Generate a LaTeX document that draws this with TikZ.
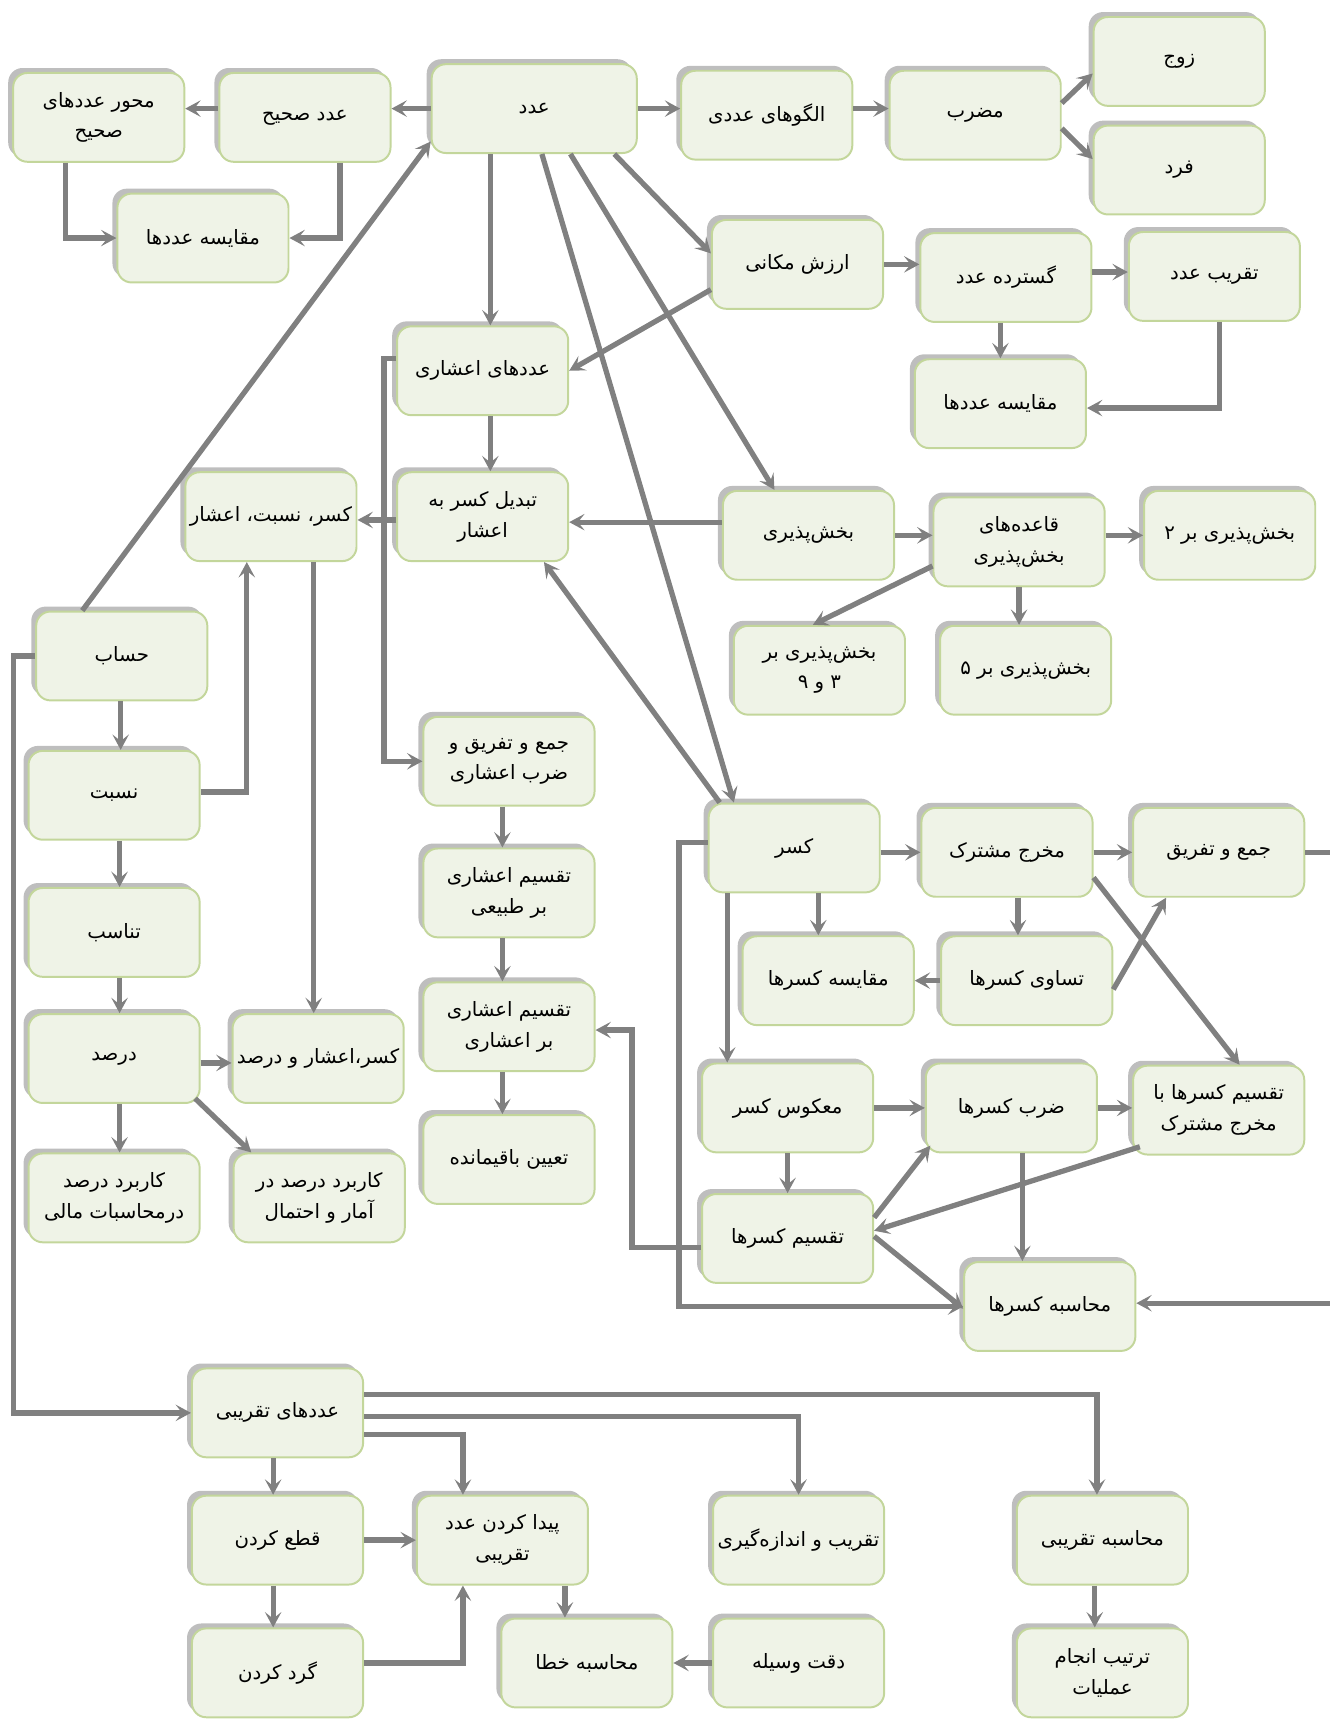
\documentclass[tikz,border=0pt]{standalone}
\usepackage{fontspec}
\newfontfamily\arabicfont[Script=Arabic]{DejaVu Sans}
\TeXXeTstate=1
\usetikzlibrary{arrows.meta,shadows}
\definecolor{boxfill}{RGB}{239,243,231}
\definecolor{boxline}{RGB}{195,214,155}
\definecolor{shadowgray}{RGB}{190,190,190}
\definecolor{linkgray}{RGB}{128,128,128}
\newcommand{\fatext}[1]{\beginR #1\endR}

\begin{document}
\begin{tikzpicture}[x=1pt,y=-1pt,
    topic/.style={draw=boxline,fill=boxfill,line width=1.8pt,rounded corners=13pt,
      minimum width=156pt,minimum height=81pt,align=center,inner sep=2pt,
      font=\arabicfont\fontsize{18}{28}\selectfont,
      drop shadow={shadow xshift=-4.5pt,shadow yshift=4.5pt,fill=shadowgray,opacity=1}},
    link/.style={draw=linkgray,line width=4.8pt,-{Stealth[length=14pt,width=15pt,inset=6pt]}},
    plain/.style={draw=linkgray,line width=4.8pt}]
  \useasboundingbox (0,0) rectangle (1212,1568);

  \node[topic,minimum width=187pt] (num) at (487,99) {\fatext{عدد}};
  \node[topic] (intg) at (278,107) {\fatext{عدد صحیح}};
  \node[topic] (axis) at (90,107) {\fatext{محور عددهای}\\\fatext{صحیح}};
  \node[topic] (cmpL) at (185,217) {\fatext{مقایسه عددها}};
  \node[topic] (pattern) at (699,105) {\fatext{الگوهای عددی}};
  \node[topic] (mult) at (889,105) {\fatext{مضرب}};
  \node[topic] (even) at (1075,56) {\fatext{زوج}};
  \node[topic] (odd) at (1075,155) {\fatext{فرد}};
  \node[topic] (place) at (727,241) {\fatext{ارزش مکانی}};
  \node[topic] (expand) at (917,253) {\fatext{گسترده عدد}};
  \node[topic] (approxnum) at (1107,252) {\fatext{تقریب عدد}};
  \node[topic] (cmpR) at (912,368) {\fatext{مقایسه عددها}};
  \node[topic] (dec) at (440,338) {\fatext{عددهای اعشاری}};
  \node[topic] (conv) at (440,471) {\fatext{تبدیل کسر به}\\\fatext{اعشار}};
  \node[topic] (frd) at (247,471) {\fatext{کسر، نسبت، اعشار}};
  \node[topic] (divis) at (737,488) {\fatext{بخش‌پذیری}};
  \node[topic] (rules) at (929,494) {\fatext{قاعده‌های}\\\fatext{بخش‌پذیری}};
  \node[topic] (by2) at (1121,488) {\fatext{بخش‌پذیری بر ۲}};
  \node[topic] (by39) at (747,611) {\fatext{بخش‌پذیری بر}\\\fatext{۳ و ۹}};
  \node[topic] (by5) at (935,611) {\fatext{بخش‌پذیری بر ۵}};
  \node[topic] (arith) at (111,598) {\fatext{حساب}};
  \node[topic] (ratio) at (104,725) {\fatext{نسبت}};
  \node[topic] (prop) at (104,850) {\fatext{تناسب}};
  \node[topic] (pct) at (104,965) {\fatext{درصد}};
  \node[topic] (fdp) at (290,965) {\fatext{کسر،اعشار و درصد}};
  \node[topic] (pctfin) at (104,1092) {\fatext{کاربرد درصد}\\\fatext{درمحاسبات مالی}};
  \node[topic] (pctstat) at (291,1092) {\fatext{کاربرد درصد در}\\\fatext{آمار و احتمال}};
  \node[topic] (decadd) at (464,694) {\fatext{جمع و تفریق و}\\\fatext{ضرب اعشاری}};
  \node[topic] (decdivn) at (464,814) {\fatext{تقسیم اعشاری}\\\fatext{بر طبیعی}};
  \node[topic] (decdivd) at (464,936) {\fatext{تقسیم اعشاری}\\\fatext{بر اعشاری}};
  \node[topic] (remd) at (464,1057) {\fatext{تعیین باقیمانده}};
  \node[topic] (frac) at (724,773) {\fatext{کسر}};
  \node[topic] (lcd) at (918,777) {\fatext{مخرج مشترک}};
  \node[topic] (addsub) at (1111,777) {\fatext{جمع و تفریق}};
  \node[topic] (fcmp) at (755,894) {\fatext{مقایسه کسرها}};
  \node[topic] (feq) at (936,894) {\fatext{تساوی کسرها}};
  \node[topic] (inv) at (718,1010) {\fatext{معکوس کسر}};
  \node[topic] (fmul) at (922,1010) {\fatext{ضرب کسرها}};
  \node[topic] (fdivc) at (1111,1012) {\fatext{تقسیم کسرها با}\\\fatext{مخرج مشترک}};
  \node[topic] (fdiv) at (718,1129) {\fatext{تقسیم کسرها}};
  \node[topic] (fcalc) at (957,1191) {\fatext{محاسبه کسرها}};
  \node[topic] (approx) at (253,1288) {\fatext{عددهای تقریبی}};
  \node[topic] (trunc) at (253,1404) {\fatext{قطع کردن}};
  \node[topic] (findap) at (458,1404) {\fatext{پیدا کردن عدد}\\\fatext{تقریبی}};
  \node[topic] (measure) at (728,1404) {\fatext{تقریب و اندازه‌گیری}};
  \node[topic] (apcalc) at (1005,1404) {\fatext{محاسبه تقریبی}};
  \node[topic] (rnd) at (253,1525) {\fatext{گرد کردن}};
  \node[topic] (err) at (535,1516) {\fatext{محاسبه خطا}};
  \node[topic] (prec) at (728,1516) {\fatext{دقت وسیله}};
  \node[topic] (order) at (1005,1525) {\fatext{ترتیب انجام}\\\fatext{عملیات}};
  \coordinate (edgeA) at (1220,777);
  \coordinate (edgeB) at (1220,1188);

  \draw[link] (num.west) -- (num.west -| intg.east);
  \draw[link] (num.west -| intg.west) -- (num.west -| axis.east);
  \draw[link] ([xshift=-30pt]axis.south) |- (cmpL.west);
  \draw[link] ([xshift=32pt]intg.south) |- (cmpL.east);
  \draw[link] (num.east) -- (num.east -| pattern.west);
  \draw[link] (num.east -| pattern.east) -- (num.east -| mult.west);
  \draw[link] ([yshift=11pt]mult.east) -- ([yshift=-11pt]even.west);
  \draw[link] ([yshift=-12pt]mult.east) -- ([yshift=10pt]odd.west);
  \draw[link] ([xshift=73pt]num.south) -- ([yshift=10pt]place.west);
  \draw[link] ([xshift=-40pt]num.south) -- ([xshift=7pt]dec.north);
  \draw[link] ([xshift=33pt]num.south) -- ([xshift=-31pt]divis.north);
  \draw[link] ([xshift=7pt]num.south) -- ([xshift=-55pt]frac.north);
  \draw[link] ([yshift=-23pt]place.west) -- (dec.east);
  \draw[link] (place.east) -- (place.east -| expand.west);
  \draw[link] ([yshift=5pt]expand.east) -- ([yshift=4pt]approxnum.west);
  \draw[link] (expand.south -| cmpR.north) -- (cmpR.north);
  \draw[link] ([xshift=5pt]approxnum.south) |- ([yshift=-4pt]cmpR.east);
  \draw[link] ([xshift=7pt]dec.south) -- ([xshift=7pt]conv.north);
  \draw[link] ([yshift=11pt]dec.west) -- ++(-11,0) |- (decadd.west);
  \draw[link] ([yshift=-3pt]conv.west) -- ([yshift=-3pt]frd.east);
  \draw[link] ([yshift=12pt]divis.west) -- ([yshift=-5pt]conv.east);
  \draw[link] ([xshift=11pt]frac.north west) -- ([xshift=-23pt]conv.south east);
  \draw[link] (divis.east) -- (divis.east -| rules.west);
  \draw[link] (by2.west -| rules.east) -- (by2.west);
  \draw[link] ([yshift=-22pt]rules.west) -- ([xshift=-6pt]by39.north);
  \draw[link] (rules.south) -- (rules.south |- by5.north);
  \draw[link] ([xshift=-36pt]arith.north) -- ([yshift=-30pt]num.west);
  \draw[link] ([xshift=-1pt]arith.south) -- ([xshift=6pt]ratio.north);
  \draw[link] (arith.west) -- ++(-20,0) |- (approx.west);
  \draw[link] ([yshift=3pt]ratio.east) -| ([xshift=-22pt]frd.south);
  \draw[link] ([xshift=39pt]frd.south) -- ([xshift=-4pt]fdp.north);
  \draw[link] ([xshift=5pt]ratio.south) -- ([xshift=5pt]prop.north);
  \draw[link] ([xshift=5pt]prop.south) -- ([xshift=5pt]pct.north);
  \draw[link] ([yshift=-4pt]pct.east) -- ([yshift=-4pt]fdp.west);
  \draw[link] ([xshift=5pt]pct.south) -- ([xshift=5pt]pctfin.north);
  \draw[link] ([xshift=-5pt,yshift=5pt]pct.south east) -- ([xshift=17pt]pctstat.north west);
  \draw[link] ([xshift=-6pt]decadd.south) -- ([xshift=-6pt]decdivn.north);
  \draw[link] ([xshift=-6pt]decdivn.south) -- ([xshift=-6pt]decdivd.north);
  \draw[link] ([xshift=-6pt]decdivd.south) -- ([xshift=-6pt]remd.north);
  \draw[link] ([yshift=-8pt]fdiv.west) -- ++(-63,0) |- ([yshift=-3pt]decdivd.east);
  \draw[link] (lcd.west -| frac.east) -- (lcd.west);
  \draw[link] (lcd.east) -- (addsub.west);
  \draw[plain] (addsub.east) -- (edgeA);
  \draw[link] ([xshift=22pt]frac.south) -- ([xshift=-9pt]fcmp.north);
  \draw[link] ([xshift=10pt]lcd.south) -- ([xshift=-8pt]feq.north);
  \draw[link] (feq.west) -- (fcmp.east);
  \draw[link] ([yshift=-8pt]feq.east) -- ([xshift=-48pt]addsub.south);
  \draw[link] ([yshift=-23pt]lcd.east) -- ([xshift=19pt]fdivc.north);
  \draw[link] ([xshift=-61pt]frac.south) -- ([xshift=-55pt]inv.north);
  \draw[link] ([yshift=5pt]frac.west) -- ++(-26,0) |- (fcalc.west);
  \draw[link] (inv.east) -- (fmul.west);
  \draw[link] (fmul.east) -- (fmul.east -| fdivc.west);
  \draw[link] (inv.south) -- (fdiv.north);
  \draw[link] ([yshift=19pt]fdiv.east) -- ([xshift=5pt,yshift=7pt]fmul.south west);
  \draw[link] ([xshift=7pt,yshift=8pt]fdivc.south west) -- ([yshift=7pt]fdiv.east);
  \draw[link] ([xshift=10pt]fmul.south) -- ([xshift=-25pt]fcalc.north);
  \draw[link] ([yshift=2pt]fdiv.east) -- ([yshift=-2pt]fcalc.west);
  \draw[link] (edgeB) -- ([yshift=3pt]fcalc.east);
  \draw[link] ([yshift=17pt]approx.east) -| ([xshift=-5pt]apcalc.north);
  \draw[link] ([yshift=-3pt]approx.east) -| (measure.north);
  \draw[link] ([yshift=-20pt]approx.east) -| ([xshift=-36pt]findap.north);
  \draw[link] ([xshift=-4pt]approx.south) -- ([xshift=-4pt]trunc.north);
  \draw[link] (trunc.east) -- (findap.west);
  \draw[link] ([xshift=-4pt]trunc.south) -- ([xshift=-4pt]rnd.north);
  \draw[link] ([yshift=9pt]rnd.east) -| ([xshift=-36pt]findap.south);
  \draw[link] ([xshift=57pt]findap.south) -- ([xshift=-20pt]err.north);
  \draw[link] (prec.west) -- (err.east);
  \draw[link] ([xshift=-7pt]apcalc.south) -- ([xshift=-7pt]order.north);
\end{tikzpicture}
\end{document}
